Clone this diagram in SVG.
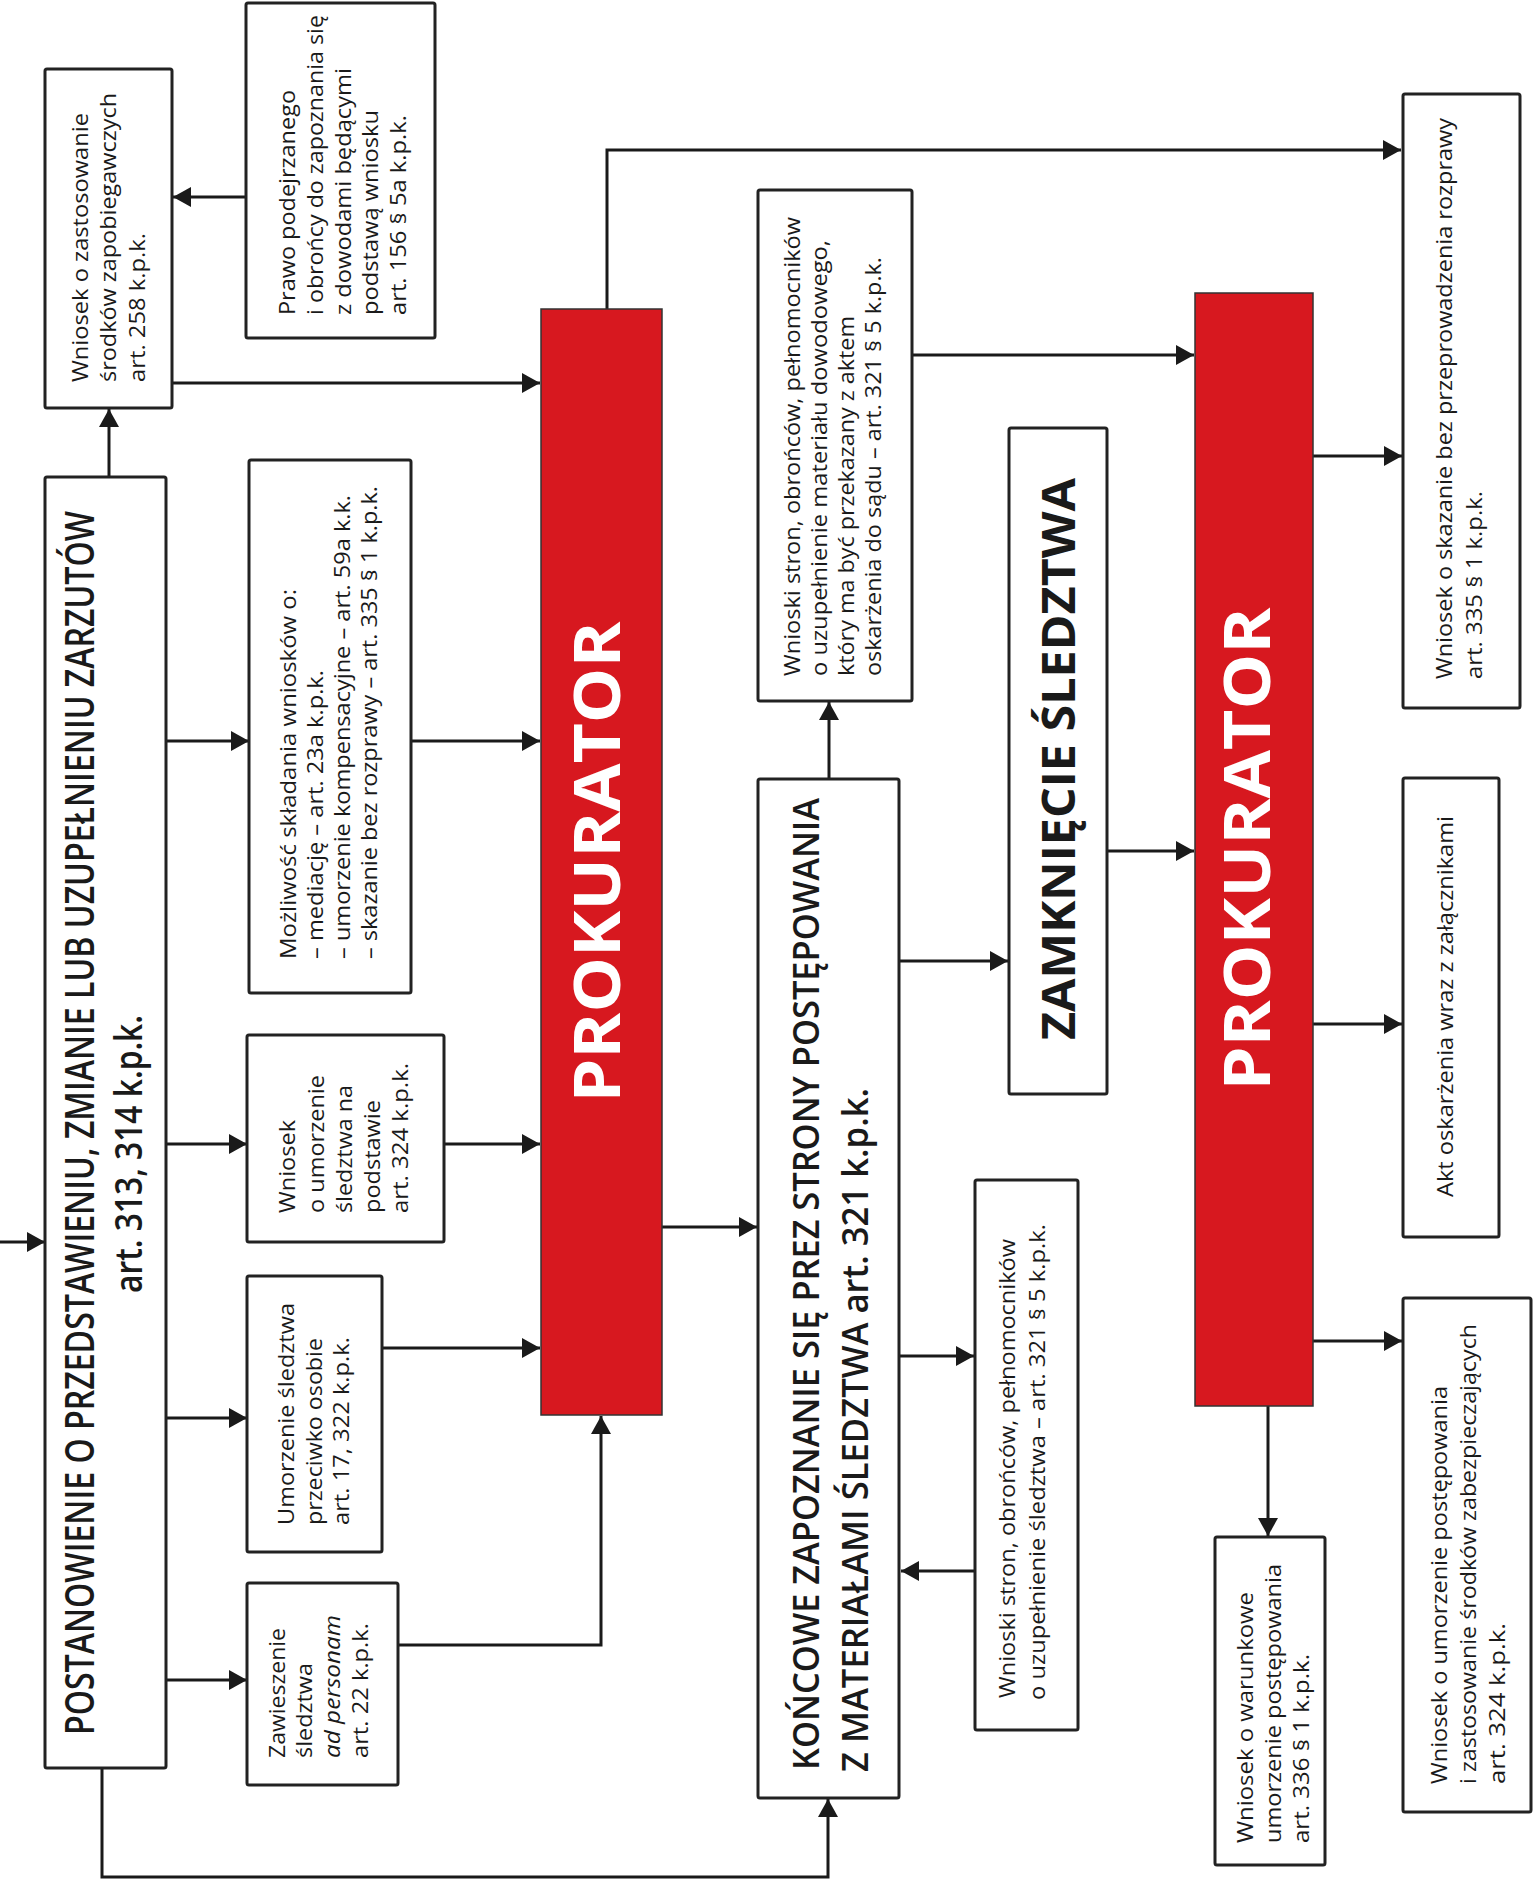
<svg xmlns="http://www.w3.org/2000/svg" width="1533" height="1884" viewBox="0 0 1533 1884">
<defs>
<marker id="ah" viewBox="0 0 18 20" refX="18" refY="10" markerWidth="18" markerHeight="20" markerUnits="userSpaceOnUse" orient="auto">
<path d="M0,0 L18,10 L0,20 z" fill="#1a1a1a"/>
</marker>
</defs>
<style>
.box{fill:#fff;stroke:#222;stroke-width:3}
.red{fill:#d7181f;stroke:#333;stroke-width:1.5}
.t{font-family:"Open Sans","Noto Sans","DejaVu Sans",sans-serif;fill:#1a1a1a;font-size:22px;font-weight:500}
.big{font-family:"Open Sans","Noto Sans","DejaVu Sans",sans-serif;fill:#1a1a1a;font-weight:600}
.pk{font-family:"Open Sans","Noto Sans","DejaVu Sans",sans-serif;fill:#fff;font-weight:700;font-size:64px}
.zs{font-family:"Open Sans","Noto Sans","DejaVu Sans",sans-serif;fill:#1a1a1a;font-weight:700;font-size:46px}
.c{fill:none;stroke:#1a1a1a;stroke-width:3;marker-end:url(#ah)}
</style>
<rect width="1533" height="1884" fill="#fff"/>

<g id="connectors">
<path class="c" d="M0,1242 H45"/>
<path class="c" d="M109,477 V409"/>
<path class="c" d="M246,197 H173"/>
<path class="c" d="M172,383 H540"/>
<path class="c" d="M166,741 H249"/>
<path class="c" d="M411,741 H540"/>
<path class="c" d="M166,1144 H247"/>
<path class="c" d="M444,1144 H540"/>
<path class="c" d="M166,1418 H247"/>
<path class="c" d="M382,1348 H540"/>
<path class="c" d="M166,1680 H247"/>
<path class="c" d="M398,1645 H601 V1416"/>
<path class="c" d="M102,1768 V1877 H828 V1799"/>
<path class="c" d="M662,1227 H757"/>
<path class="c" d="M607,309 V150 H1401"/>
<path class="c" d="M829,779 V702"/>
<path class="c" d="M912,355 H1194"/>
<path class="c" d="M900,961 H1008"/>
<path class="c" d="M1107,851 H1194"/>
<path class="c" d="M900,1356 H974"/>
<path class="c" d="M975,1571 H901"/>
<path class="c" d="M1313,456 H1402"/>
<path class="c" d="M1313,1024 H1402"/>
<path class="c" d="M1313,1341 H1402"/>
<path class="c" d="M1268,1406 V1536"/>
</g>

<g id="n-wniosek-258">
<rect class="box" x="45" y="69" width="127" height="339" rx="2"/>
<g transform="rotate(-90)" class="t">
<text x="-382" y="88" textLength="269" lengthAdjust="spacingAndGlyphs">Wniosek o zastosowanie</text>
<text x="-382" y="116" textLength="289" lengthAdjust="spacingAndGlyphs">środków zapobiegawczych</text>
<text x="-382" y="145" textLength="149" lengthAdjust="spacingAndGlyphs">art. 258 k.p.k.</text>
</g>
</g>

<g id="n-prawo">
<rect class="box" x="246" y="3" width="189" height="335" rx="2"/>
<g transform="rotate(-90)" class="t">
<text x="-315" y="295" textLength="225" lengthAdjust="spacingAndGlyphs">Prawo podejrzanego</text>
<text x="-315" y="323" textLength="300" lengthAdjust="spacingAndGlyphs">i obrońcy do zapoznania się</text>
<text x="-315" y="351" textLength="247" lengthAdjust="spacingAndGlyphs">z dowodami będącymi</text>
<text x="-315" y="378" textLength="205" lengthAdjust="spacingAndGlyphs">podstawą wniosku</text>
<text x="-315" y="406" textLength="200" lengthAdjust="spacingAndGlyphs">art. 156 § 5a k.p.k.</text>
</g>
</g>

<g id="n-postanowienie">
<rect class="box" x="45" y="477" width="121" height="1291" rx="2"/>
<g transform="rotate(-90)" class="big">
<text x="-1735" y="94" font-size="40" textLength="1224" lengthAdjust="spacingAndGlyphs">POSTANOWIENIE O PRZEDSTAWIENIU, ZMIANIE LUB UZUPEŁNIENIU ZARZUTÓW</text>
<text x="-1293" y="142" font-size="37" textLength="278" lengthAdjust="spacingAndGlyphs">art. 313, 314 k.p.k.</text>
</g>
</g>

<g id="n-mozliwosc">
<rect class="box" x="249" y="460" width="162" height="533" rx="2"/>
<g transform="rotate(-90)" class="t">
<text x="-959" y="296" textLength="370" lengthAdjust="spacingAndGlyphs">Możliwość składania wniosków o:</text>
<text x="-959" y="323" textLength="289" lengthAdjust="spacingAndGlyphs">– mediację – art. 23a k.p.k.</text>
<text x="-959" y="350" textLength="464" lengthAdjust="spacingAndGlyphs">– umorzenie kompensacyjne – art. 59a k.k.</text>
<text x="-959" y="377" textLength="473" lengthAdjust="spacingAndGlyphs">– skazanie bez rozprawy – art. 335 § 1 k.p.k.</text>
</g>
</g>

<g id="n-wniosek-324">
<rect class="box" x="247" y="1035" width="197" height="207" rx="2"/>
<g transform="rotate(-90)" class="t">
<text x="-1213" y="295" textLength="93" lengthAdjust="spacingAndGlyphs">Wniosek</text>
<text x="-1213" y="324" textLength="138" lengthAdjust="spacingAndGlyphs">o umorzenie</text>
<text x="-1213" y="352" textLength="128" lengthAdjust="spacingAndGlyphs">śledztwa na</text>
<text x="-1213" y="380" textLength="113" lengthAdjust="spacingAndGlyphs">podstawie</text>
<text x="-1213" y="408" textLength="150" lengthAdjust="spacingAndGlyphs">art. 324 k.p.k.</text>
</g>
</g>

<g id="n-umorzenie-osobie">
<rect class="box" x="247" y="1276" width="135" height="276" rx="2"/>
<g transform="rotate(-90)" class="t">
<text x="-1525" y="294" textLength="222" lengthAdjust="spacingAndGlyphs">Umorzenie śledztwa</text>
<text x="-1525" y="322" textLength="187" lengthAdjust="spacingAndGlyphs">przeciwko osobie</text>
<text x="-1525" y="349" textLength="188" lengthAdjust="spacingAndGlyphs">art. 17, 322 k.p.k.</text>
</g>
</g>

<g id="n-zawieszenie">
<rect class="box" x="247" y="1583" width="151" height="202" rx="2"/>
<g transform="rotate(-90)" class="t">
<text x="-1758" y="285" textLength="130" lengthAdjust="spacingAndGlyphs">Zawieszenie</text>
<text x="-1758" y="312" textLength="95" lengthAdjust="spacingAndGlyphs">śledztwa</text>
<text x="-1758" y="340" font-style="italic" textLength="143" lengthAdjust="spacingAndGlyphs">ad personam</text>
<text x="-1758" y="368" textLength="135" lengthAdjust="spacingAndGlyphs">art. 22 k.p.k.</text>
</g>
</g>

<g id="n-prokurator-1">
<rect class="red" x="541" y="309" width="121" height="1106"/>
<text class="pk" transform="rotate(-90)" x="-862" y="620" text-anchor="middle" textLength="481" lengthAdjust="spacingAndGlyphs">PROKURATOR</text>
</g>

<g id="n-koncowe">
<rect class="box" x="758" y="779" width="141" height="1019" rx="2"/>
<g transform="rotate(-90)" class="big">
<text x="-1770" y="819" font-size="36" textLength="972" lengthAdjust="spacingAndGlyphs">KOŃCOWE ZAPOZNANIE SIĘ PREZ STRONY POSTĘPOWANIA</text>
<text x="-1772" y="868" font-size="36" textLength="684" lengthAdjust="spacingAndGlyphs">Z MATERIAŁAMI ŚLEDZTWA  art.  321  k.p.k.</text>
</g>
</g>

<g id="n-wnioski-material">
<rect class="box" x="758" y="190" width="154" height="511" rx="2"/>
<g transform="rotate(-90)" class="t">
<text x="-676" y="800" textLength="459" lengthAdjust="spacingAndGlyphs">Wnioski stron, obrońców, pełnomocników</text>
<text x="-676" y="827" textLength="436" lengthAdjust="spacingAndGlyphs">o uzupełnienie materiału dowodowego,</text>
<text x="-676" y="854" textLength="360" lengthAdjust="spacingAndGlyphs">który ma być przekazany z aktem</text>
<text x="-676" y="881" textLength="419" lengthAdjust="spacingAndGlyphs">oskarżenia do sądu – art. 321 § 5 k.p.k.</text>
</g>
</g>

<g id="n-zamkniecie">
<rect class="box" x="1009" y="428" width="98" height="666" rx="2"/>
<text class="zs" transform="rotate(-90)" x="-759" y="1075" text-anchor="middle" textLength="562" lengthAdjust="spacingAndGlyphs">ZAMKNIĘCIE ŚLEDZTWA</text>
</g>

<g id="n-wnioski-sledztwa">
<rect class="box" x="975" y="1180" width="103" height="550" rx="2"/>
<g transform="rotate(-90)" class="t">
<text x="-1698" y="1015" textLength="459" lengthAdjust="spacingAndGlyphs">Wnioski stron, obrońców, pełnomocników</text>
<text x="-1700" y="1045" textLength="476" lengthAdjust="spacingAndGlyphs">o uzupełnienie śledztwa – art. 321 § 5 k.p.k.</text>
</g>
</g>

<g id="n-prokurator-2">
<rect class="red" x="1195" y="293" width="118" height="1113"/>
<text class="pk" transform="rotate(-90)" x="-849" y="1270" text-anchor="middle" textLength="483" lengthAdjust="spacingAndGlyphs">PROKURATOR</text>
</g>

<g id="n-skazanie">
<rect class="box" x="1403" y="94" width="117" height="614" rx="2"/>
<g transform="rotate(-90)" class="t">
<text x="-679" y="1452" textLength="561" lengthAdjust="spacingAndGlyphs">Wniosek o skazanie bez przeprowadzenia rozprawy</text>
<text x="-679" y="1482" textLength="188" lengthAdjust="spacingAndGlyphs">art. 335 § 1 k.p.k.</text>
</g>
</g>

<g id="n-akt">
<rect class="box" x="1403" y="778" width="96" height="459" rx="2"/>
<g transform="rotate(-90)" class="t">
<text x="-1197" y="1453" textLength="381" lengthAdjust="spacingAndGlyphs">Akt oskarżenia wraz z załącznikami</text>
</g>
</g>

<g id="n-umorzenie-postepowania">
<rect class="box" x="1403" y="1298" width="128" height="514" rx="2"/>
<g transform="rotate(-90)" class="t">
<text x="-1784" y="1447" textLength="398" lengthAdjust="spacingAndGlyphs">Wniosek o umorzenie postępowania</text>
<text x="-1784" y="1476" textLength="460" lengthAdjust="spacingAndGlyphs">i zastosowanie środków zabezpieczających</text>
<text x="-1784" y="1505" textLength="161" lengthAdjust="spacingAndGlyphs">art. 324 k.p.k.</text>
</g>
</g>

<g id="n-warunkowe">
<rect class="box" x="1215" y="1537" width="110" height="328" rx="2"/>
<g transform="rotate(-90)" class="t">
<text x="-1843" y="1253" textLength="251" lengthAdjust="spacingAndGlyphs">Wniosek o warunkowe</text>
<text x="-1843" y="1281" textLength="279" lengthAdjust="spacingAndGlyphs">umorzenie postępowania</text>
<text x="-1843" y="1309" textLength="189" lengthAdjust="spacingAndGlyphs">art. 336 § 1 k.p.k.</text>
</g>
</g>
</svg>
